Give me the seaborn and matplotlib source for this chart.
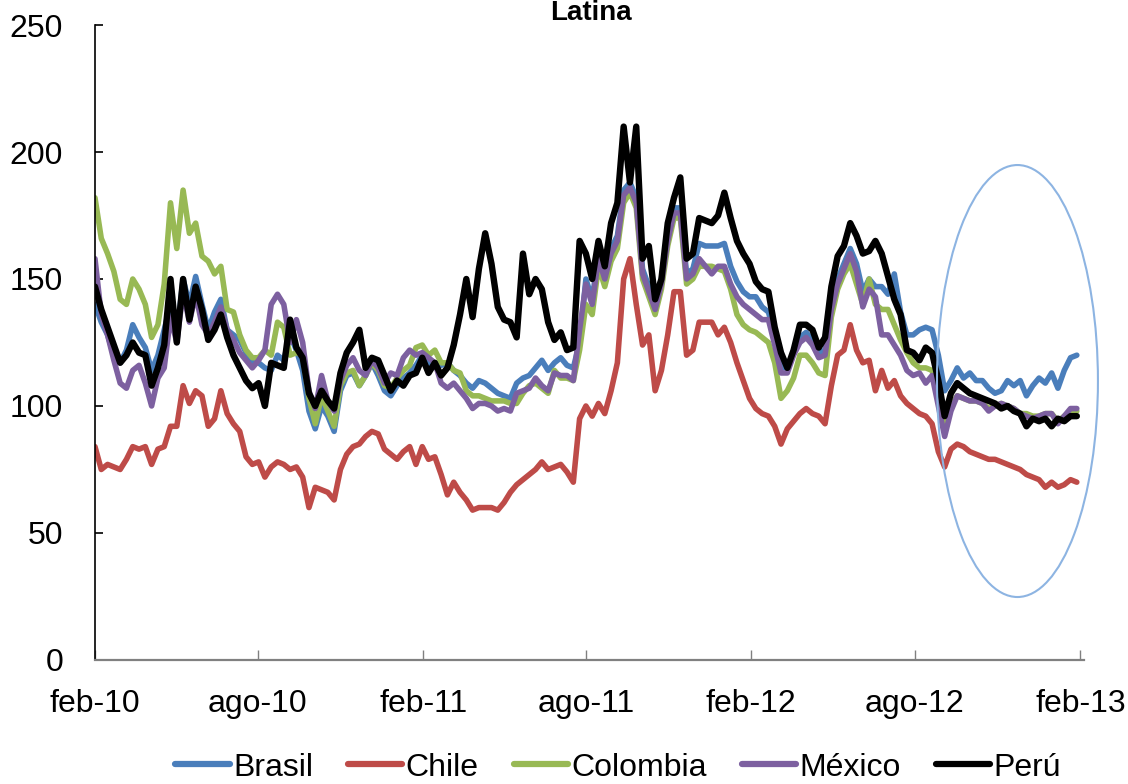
import pandas as pd
import matplotlib
matplotlib.use("Agg")
import matplotlib.pyplot as plt
from matplotlib.patches import Ellipse
from matplotlib.lines import Line2D
import seaborn as sns

# Weekly observations, Feb 2010 - Jan 2013
fechas = pd.date_range("2010-02-01", periods=157, freq="7D")

brasil = [
    140, 133, 128, 120, 117, 122, 132, 127, 123, 114,
    120, 130, 140, 128, 150, 140, 151, 140, 130, 137,
    142, 130, 128, 126, 121, 117, 117, 115, 114, 120,
    118, 128, 122, 114, 98, 91, 100, 96, 90, 106,
    112, 113, 108, 112, 117, 112, 106, 104, 108, 111,
    113, 116, 120, 116, 117, 116, 117, 114, 112, 109,
    107, 110, 109, 107, 105, 104, 103, 109, 111, 112,
    115, 118, 114, 117, 119, 116, 115, 125, 150, 142,
    160, 152, 162, 167, 185, 188, 182, 154, 147, 140,
    150, 167, 178, 178, 152, 154, 164, 163, 163, 163,
    164, 155, 149, 145, 143, 143, 139, 137, 128, 115,
    115, 121, 127, 129, 126, 121, 122, 140, 150, 156,
    162, 156, 145, 150, 147, 147, 144, 152, 137, 128,
    128, 130, 131, 130, 120, 106, 110, 115, 111, 113,
    110, 110, 107, 105, 106, 110, 108, 110, 104, 108,
    111, 109, 113, 107, 114, 119, 120,
]

chile = [
    84, 75, 77, 76, 75, 79, 84, 83, 84, 77,
    83, 84, 92, 92, 108, 101, 106, 104, 92, 95,
    106, 97, 93, 90, 80, 77, 78, 72, 76, 78,
    77, 75, 76, 72, 60, 68, 67, 66, 63, 75,
    81, 84, 85, 88, 90, 89, 83, 81, 79, 82,
    84, 77, 84, 79, 80, 73, 65, 70, 66, 63,
    59, 60, 60, 60, 59, 62, 66, 69, 71, 73,
    75, 78, 75, 76, 77, 74, 70, 95, 100, 96,
    101, 97, 106, 117, 150, 158, 140, 124, 128, 106,
    114, 128, 145, 145, 120, 122, 133, 133, 133, 128,
    131, 125, 117, 110, 103, 99, 97, 96, 92, 85,
    91, 94, 97, 99, 97, 96, 93, 108, 120, 122,
    132, 122, 117, 118, 106, 114, 107, 110, 104, 101,
    99, 97, 96, 93, 82, 76, 83, 85, 84, 82,
    81, 80, 79, 79, 78, 77, 76, 75, 73, 72,
    71, 68, 70, 68, 69, 71, 70,
]

colombia = [
    182, 166, 160, 153, 142, 140, 150, 146, 140, 127,
    132, 148, 180, 162, 185, 168, 172, 159, 157, 152,
    155, 138, 137, 128, 122, 119, 119, 122, 120, 133,
    131, 120, 121, 120, 103, 93, 104, 98, 92, 108,
    113, 114, 108, 112, 117, 114, 108, 107, 111, 114,
    116, 123, 124, 120, 122, 117, 117, 114, 113, 106,
    104, 104, 103, 102, 102, 102, 101, 101, 105, 108,
    109, 107, 105, 114, 111, 111, 110, 122, 140, 136,
    155, 147, 157, 162, 180, 184, 178, 150, 143, 136,
    146, 163, 174, 174, 148, 150, 155, 155, 155, 154,
    153, 146, 136, 132, 130, 129, 127, 125, 117, 103,
    106, 111, 120, 120, 117, 113, 112, 135, 146, 152,
    156, 148, 140, 150, 140, 138, 138, 132, 126, 121,
    117, 115, 115, 114, 104, 92, 100, 104, 103, 102,
    102, 101, 99, 100, 101, 100, 99, 97, 97, 96,
    96, 97, 97, 94, 96, 98, 98,
]

mexico = [
    158, 136, 128, 118, 109, 107, 114, 116, 109, 100,
    111, 115, 135, 125, 145, 133, 144, 132, 128, 133,
    139, 130, 126, 121, 118, 115, 118, 122, 140, 144,
    140, 125, 134, 125, 106, 99, 112, 102, 98, 110,
    116, 119, 114, 112, 118, 115, 109, 113, 112, 119,
    122, 120, 121, 119, 117, 109, 107, 109, 106, 103,
    99, 101, 101, 100, 98, 99, 98, 105, 106, 107,
    111, 108, 106, 113, 112, 112, 110, 130, 148, 140,
    158, 150, 160, 165, 183, 186, 180, 152, 145, 138,
    148, 165, 176, 176, 150, 152, 158, 155, 152, 155,
    155, 148, 143, 140, 138, 136, 134, 134, 124, 113,
    113, 120, 125, 127, 124, 119, 120, 138, 148, 154,
    160, 153, 139, 146, 143, 128, 128, 124, 120, 114,
    112, 113, 109, 112, 100, 88, 98, 104, 103, 102,
    102, 101, 98, 100, 101, 100, 99, 97, 96, 95,
    96, 97, 97, 93, 96, 99, 99,
]

peru = [
    147, 138, 131, 124, 117, 120, 125, 121, 120, 108,
    115, 124, 150, 125, 150, 134, 147, 138, 126, 130,
    136, 127, 120, 115, 110, 107, 109, 100, 117, 116,
    115, 134, 123, 119, 105, 100, 106, 102, 99, 113,
    121, 125, 130, 115, 119, 118, 112, 106, 110, 108,
    112, 113, 119, 113, 117, 112, 115, 124, 136, 150,
    135, 154, 168, 156, 139, 134, 133, 127, 160, 144,
    150, 146, 133, 126, 129, 122, 123, 165, 160, 150,
    165, 155, 172, 180, 210, 188, 210, 158, 163, 142,
    150, 172, 182, 190, 158, 160, 174, 173, 172, 175,
    184, 174, 165, 160, 156, 149, 146, 145, 131, 121,
    115, 122, 132, 132, 130, 123, 127, 147, 159, 163,
    172, 167, 160, 161, 165, 160, 151, 142, 136, 122,
    121, 118, 123, 121, 110, 96, 105, 109, 107, 105,
    104, 103, 102, 101, 99, 100, 98, 97, 92, 95,
    94, 95, 92, 95, 94, 96, 96,
]

paises = ["Brasil", "Chile", "Colombia", "México", "Perú"]
colores = ["#4A7EBB", "#BE4B48", "#98B954", "#7D60A0", "#000000"]

fechas_ticks = pd.to_datetime([
    "2010-02-01", "2010-08-01", "2011-02-01", "2011-08-01",
    "2012-02-01", "2012-08-01", "2013-02-01",
])
etiquetas_x = ["feb-10", "ago-10", "feb-11", "ago-11", "feb-12", "ago-12", "feb-13"]
valores_y = [0, 50, 100, 150, 200, 250]

sns.set_style("white")
plt.rcParams["font.family"] = ["Liberation Sans", "DejaVu Sans"]
plt.rcParams["text.color"] = "black"
plt.rcParams["xtick.labelcolor"] = "black"
plt.rcParams["ytick.labelcolor"] = "black"

tabla = pd.DataFrame({
    "fecha": fechas,
    "Brasil": brasil,
    "Chile": chile,
    "Colombia": colombia,
    "México": mexico,
    "Perú": peru,
}).melt(id_vars="fecha", var_name="pais", value_name="spread")

fig = plt.figure(figsize=(11.28, 7.84), dpi=100)
ax = fig.add_axes([0.0842, 0.1582, 0.8768, 0.8099])

sns.lineplot(
    data=tabla, x="fecha", y="spread", hue="pais", hue_order=paises,
    palette=colores, linewidth=4.0, legend=False, ax=ax,
)
for linea in ax.lines:
    linea.set_solid_joinstyle("round")
    linea.set_solid_capstyle("round")
ax.lines[-1].set_linewidth(4.6)

ax.set_xlim(pd.Timestamp("2010-02-01"), pd.Timestamp("2013-02-05"))
ax.set_ylim(0, 250)
ax.set_yticks(valores_y)
ax.set_xticks(fechas_ticks)
ax.set_xticklabels(etiquetas_x)
ax.set_xlabel("")
ax.set_ylabel("")

for lado in ("top", "right"):
    ax.spines[lado].set_visible(False)
ax.spines["left"].set_color("black")
ax.spines["left"].set_linewidth(1.2)
ax.spines["bottom"].set_color("#808080")
ax.spines["bottom"].set_linewidth(1.6)

ax.tick_params(axis="y", direction="in", length=6, width=1.2, color="black",
               labelsize=23, labelcolor="black", pad=23, left=True)
ax.tick_params(axis="x", direction="in", length=7, width=1.0, color="#808080",
               labelsize=23, labelcolor="black", pad=21, bottom=True)

fig.text(0.524, 1 - 20 / 784, "Latina", ha="center", va="baseline",
         fontsize=20, fontweight="bold", color="black")

fig.add_artist(Ellipse((0.902, 0.514), 0.1427, 0.551, transform=fig.transFigure,
                       fill=False, edgecolor="#8DB4E2", linewidth=1.5))

manejadores = [Line2D([], [], color=c, linewidth=4.5) for c in colores]
fig.legend(manejadores, paises, loc="center", bbox_to_anchor=(0.548, 0.021),
           ncol=5, frameon=False, fontsize=23, handlelength=1.7,
           handletextpad=0.1, columnspacing=1.1, borderaxespad=0,
           labelcolor="black")

fig.savefig("out.png", dpi=100)
